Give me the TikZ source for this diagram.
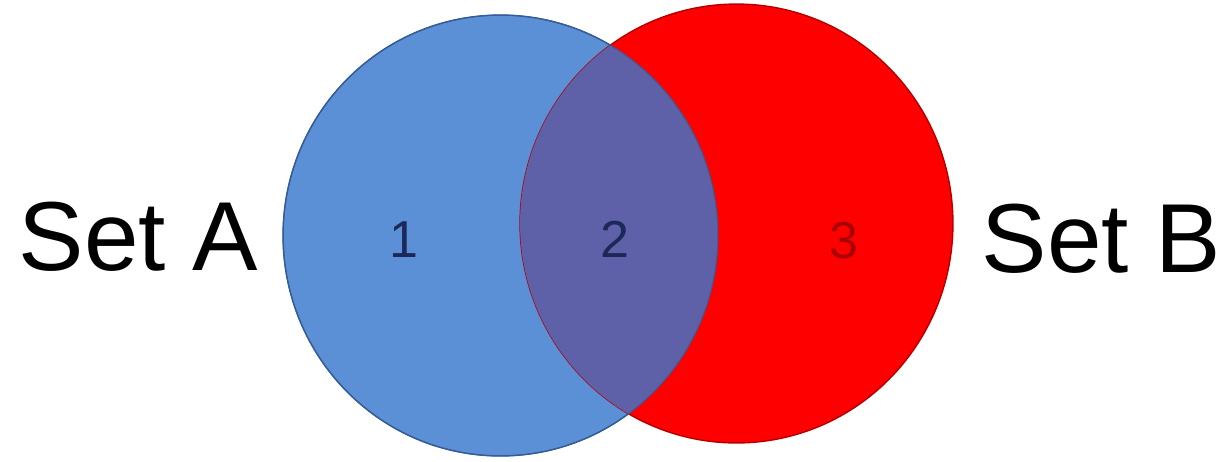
\documentclass[tikz,border=0pt]{standalone}
\usepackage{fontspec}
\setmainfont{Liberation Sans}
\definecolor{setblue}{RGB}{91,143,214}
\definecolor{bluerim}{RGB}{52,92,150}
\definecolor{setred}{RGB}{255,0,0}
\definecolor{redrim}{RGB}{180,0,0}
\definecolor{bothfill}{RGB}{94,96,168}
\definecolor{darknavy}{RGB}{28,40,88}
\definecolor{darkred}{RGB}{170,0,0}
\tikzset{
  setname/.style={anchor=base,inner sep=0pt,font=\fontsize{55.8}{60}\selectfont},
  region/.style={anchor=base,inner sep=0pt,font=\fontsize{29.6}{32}\selectfont},
  ablob/.style={x radius=4.35cm,y radius=4.41cm},
  bblob/.style={x radius=4.33cm,y radius=4.39cm}
}
\begin{document}
\begin{tikzpicture}[x=0.02cm,y=-0.02cm]
\useasboundingbox (0,0) rectangle (1227,461);
% the two sets
\fill[setblue] (500.5,235.5) ellipse [ablob];
\draw[bluerim,line width=0.8pt] (500.5,235.5) ellipse [ablob];
\fill[setred] (736.5,223.5) ellipse [bblob];
\draw[redrim,line width=0.8pt] (736.5,223.5) ellipse [bblob];
% overlap
\begin{scope}
  \clip (500.5,235.5) ellipse [ablob];
  \fill[bothfill] (736.5,223.5) ellipse [bblob];
\end{scope}
\draw[bluerim,line width=0.6pt] (500.5,235.5) ellipse [ablob];
% labels
\node[setname] (setA) at (138.5,270) {Set A};
\node[setname] (setB) at (1101.5,272) {Set B};
\node[region,text=darknavy] (one) at (404,257) {1};
\node[region,text=darknavy] (two) at (615,257) {2};
\node[region,text=darkred] (three) at (844,258) {3};
\end{tikzpicture}
\end{document}
